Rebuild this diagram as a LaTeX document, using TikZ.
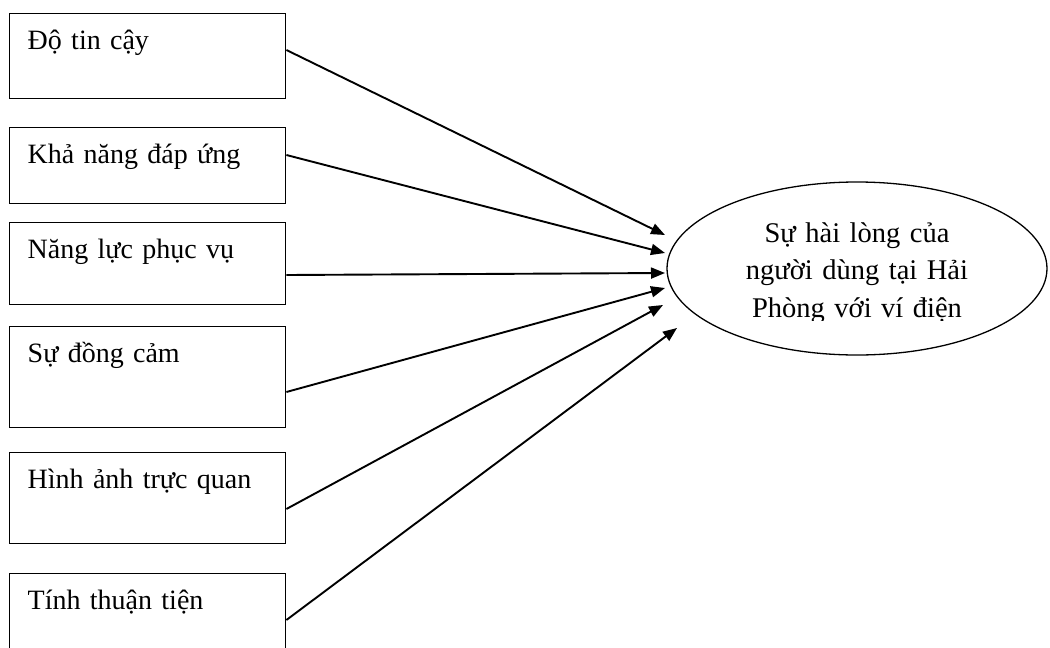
\documentclass[tikz,border=0pt]{standalone}
\usepackage{fontspec}
\setmainfont{Liberation Serif}
\usetikzlibrary{shapes.geometric,arrows.meta}
\begin{document}
\begin{tikzpicture}[x=1pt,y=-1pt,
  factor/.style={draw, line width=1.4pt, anchor=north west, inner xsep=18pt, inner ysep=0pt,
    text width=240pt, align=left, text height=36pt, font=\fontsize{28}{34}\selectfont},
  outcome/.style={draw, ellipse, line width=1.3pt, minimum width=380pt, minimum height=173pt, inner sep=0pt},
  outtext/.style={align=center, text width=320pt, anchor=base, inner sep=0pt,
    font=\fontsize{28.5}{37.5}\selectfont},
  link/.style={line width=1.9pt, -{Triangle[length=14pt,width=11pt]}}]
\path[use as bounding box, clip] (0,0) rectangle (1050,648);
\node[factor, text depth=49pt] (b1) at (9,13)  {Độ tin cậy};
\node[factor, text depth=40pt] (b2) at (9,127) {Khả năng đáp ứng};
\node[factor, text depth=46pt] (b3) at (9,222) {Năng lực phục vụ};
\node[factor, text depth=65pt] (b4) at (9,326) {Sự đồng cảm};
\node[factor, text depth=55pt] (b5) at (9,452) {Hình ảnh trực quan};
\node[factor, text depth=51pt] (b6) at (9,573) {Tính thuận tiện};
\node[outcome] (sat) at (857,268.5) {};
\begin{scope}
  \clip (600,150) rectangle (1050,320);
  \node[outtext] (satlabel) at (857,242) {Sự hài lòng của\\người dùng tại Hải\\Phòng với ví điện};
\end{scope}
\coordinate (t1) at (665,235);
\coordinate (t2) at (665,253);
\coordinate (t3) at (665,273);
\coordinate (t4) at (665,288);
\coordinate (t5) at (663,305);
\coordinate (t6) at (677,328);
\draw[link] ([yshift=-37pt]b1.north east) -- (t1);
\draw[link] ([yshift=-28pt]b2.north east) -- (t2);
\draw[link] ([yshift=-53pt]b3.north east) -- (t3);
\draw[link] ([yshift=-66pt]b4.north east) -- (t4);
\draw[link] ([yshift=-57pt]b5.north east) -- (t5);
\draw[link] ([yshift=-47pt]b6.north east) -- (t6);
\end{tikzpicture}
\end{document}
